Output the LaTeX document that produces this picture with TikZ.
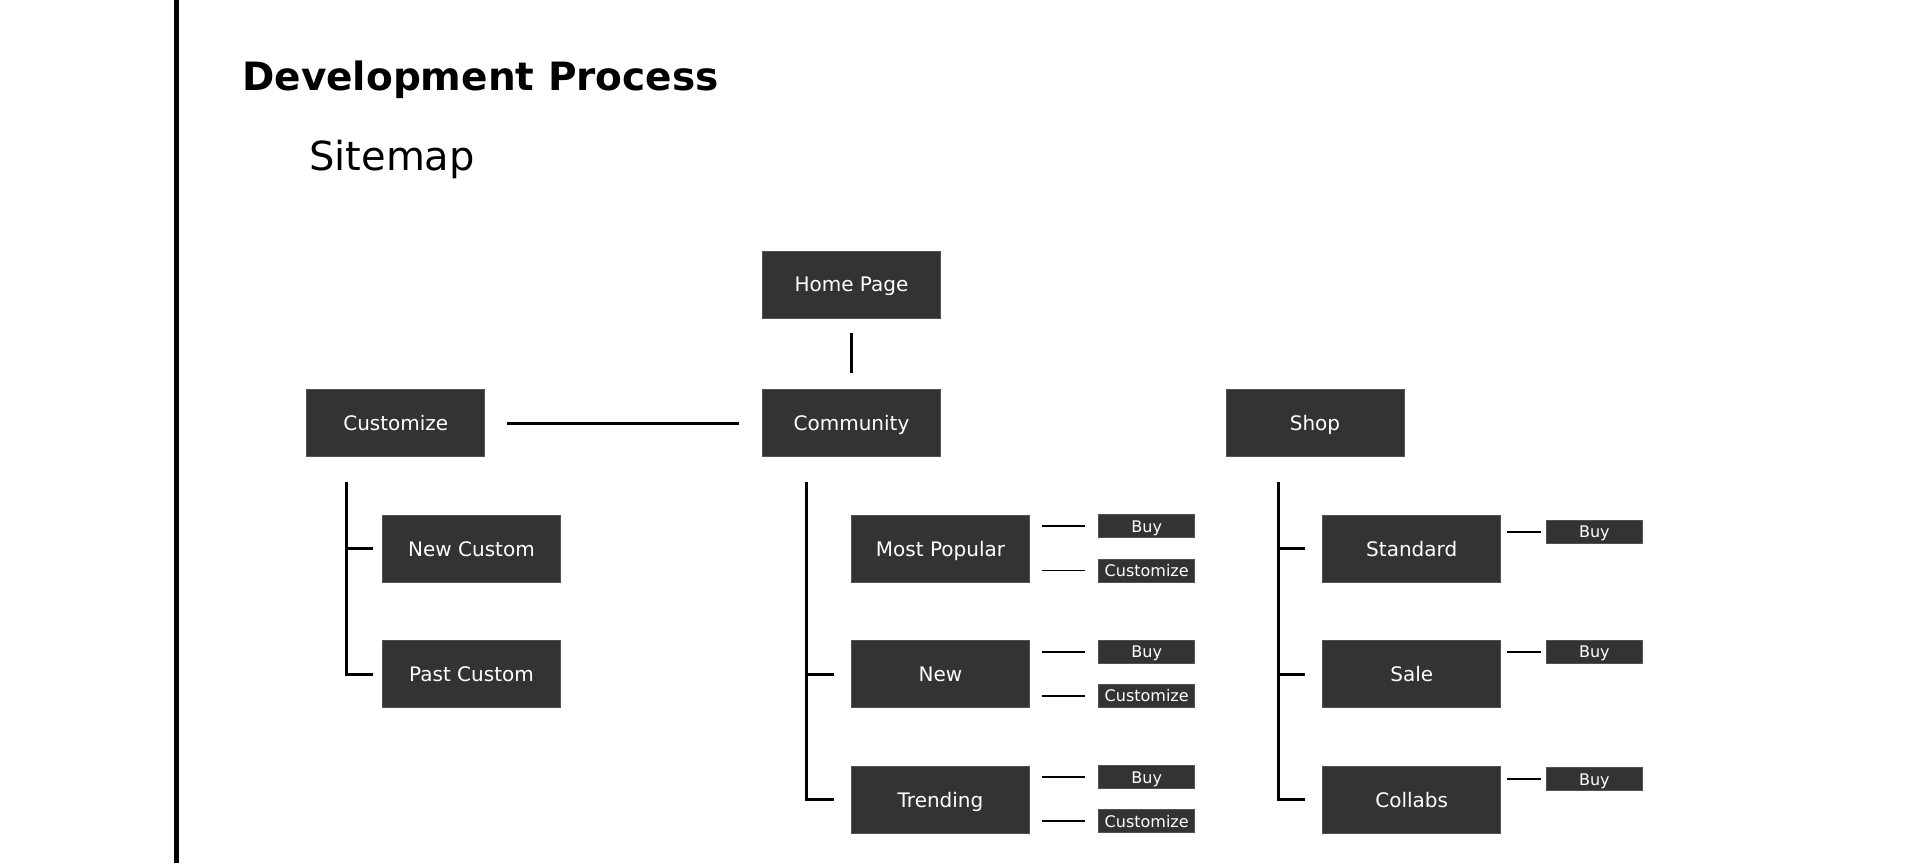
\documentclass[tikz,border=0pt]{standalone}
\usepackage{fontspec}
\setmainfont{DejaVu Sans}
\definecolor{boxgray}{RGB}{51,51,51}

\begin{document}
\begin{tikzpicture}[x=1pt, y=-1pt,
  page/.style={rectangle, fill=boxgray, draw=boxgray!85!white, line width=0.8pt, text=white, minimum width=178pt, minimum height=67pt, inner sep=0pt, text height=14.6pt, text depth=0pt, font=\fontsize{20}{24}\selectfont},
  tag/.style={rectangle, fill=boxgray, draw=boxgray!85!white, line width=0.8pt, text=white, minimum width=96pt, minimum height=23pt, inner sep=0pt, text height=11.7pt, text depth=0pt, font=\fontsize{16}{18}\selectfont},
  link/.style={line width=2.8pt},
  twig/.style={line width=1.8pt}]
\useasboundingbox (0,0) rectangle (1920,863);

% side rule and headings
\fill (174,0) rectangle (179.3,863);
\node[anchor=base west, inner sep=0pt, font=\fontsize{39}{44}\selectfont\bfseries] (title) at (242,90.7) {Development Process};
\node[anchor=base west, inner sep=0pt, font=\fontsize{40}{46}\selectfont] (subtitle) at (309,170) {Sitemap};

% top level
\node[page] (home) at (851.5,284.5) {Home Page};
\node[page] (cust) at (395.8,423.3) {Customize};
\node[page] (comm) at (851.5,423.3) {Community};
\node[page] (shop) at (1315,423.3) {Shop};

\draw[link, shorten <=15pt, shorten >=16pt] (home) -- (comm);
\draw[link, shorten <=22pt, shorten >=23pt] (cust) -- (comm);

% customize branch
\node[page] (newc) at (471.5,548.8) {New Custom};
\node[page] (pastc) at (471.5,674.2) {Past Custom};

\coordinate (custroot) at (346.7,481.7);
\draw[link] (custroot) |- ([xshift=-9pt]pastc.west);
\draw[link] (custroot |- newc.west) -- ([xshift=-9pt]newc.west);

% community branch
\node[page] (mpop) at (940.5,548.8) {Most Popular};
\node[page] (new) at (940.5,674.2) {New};
\node[page] (trend) at (940.5,799.7) {Trending};

\coordinate (commroot) at (806.7,481.7);
\draw[link] (commroot) |- ([xshift=-17pt]trend.west);
\draw[link] (commroot |- new.west) -- ([xshift=-17pt]new.west);

\node[tag] (mpopbuy) at (1146.7,526.3) {Buy};
\node[tag] (mpopcust) at (1146.7,570.5) {Customize};
\node[tag] (newbuy) at (1146.7,652) {Buy};
\node[tag] (newcust) at (1146.7,695.8) {Customize};
\node[tag] (trendbuy) at (1146.7,777.3) {Buy};
\node[tag] (trendcust) at (1146.7,821.3) {Customize};

\draw[twig, shorten <=12.4pt, shorten >=13.3pt] (mpop.east |- mpopbuy.west) -- (mpopbuy.west);
\draw[twig, shorten <=12.4pt, shorten >=13.3pt] (mpop.east |- mpopcust.west) -- (mpopcust.west);
\draw[twig, shorten <=12.4pt, shorten >=13.3pt] (new.east |- newbuy.west) -- (newbuy.west);
\draw[twig, shorten <=12.4pt, shorten >=13.3pt] (new.east |- newcust.west) -- (newcust.west);
\draw[twig, shorten <=12.4pt, shorten >=13.3pt] (trend.east |- trendbuy.west) -- (trendbuy.west);
\draw[twig, shorten <=12.4pt, shorten >=13.3pt] (trend.east |- trendcust.west) -- (trendcust.west);

% shop branch
\node[page] (std) at (1411.7,548.8) {Standard};
\node[page] (sale) at (1411.7,674.2) {Sale};
\node[page] (collab) at (1411.7,799.7) {Collabs};

\coordinate (shoproot) at (1278.3,481.7);
\draw[link] (shoproot) |- ([xshift=-17pt]collab.west);
\draw[link] (shoproot |- std.west) -- ([xshift=-17pt]std.west);
\draw[link] (shoproot |- sale.west) -- ([xshift=-17pt]sale.west);

\node[tag] (stdbuy) at (1594.3,532) {Buy};
\node[tag] (salebuy) at (1594.3,652) {Buy};
\node[tag] (collabbuy) at (1594.3,779.2) {Buy};

\draw[twig, shorten <=6.3pt, shorten >=5.3pt] (std.east |- stdbuy.west) -- (stdbuy.west);
\draw[twig, shorten <=6.3pt, shorten >=5.3pt] (sale.east |- salebuy.west) -- (salebuy.west);
\draw[twig, shorten <=6.3pt, shorten >=5.3pt] (collab.east |- collabbuy.west) -- (collabbuy.west);

\end{tikzpicture}
\end{document}
